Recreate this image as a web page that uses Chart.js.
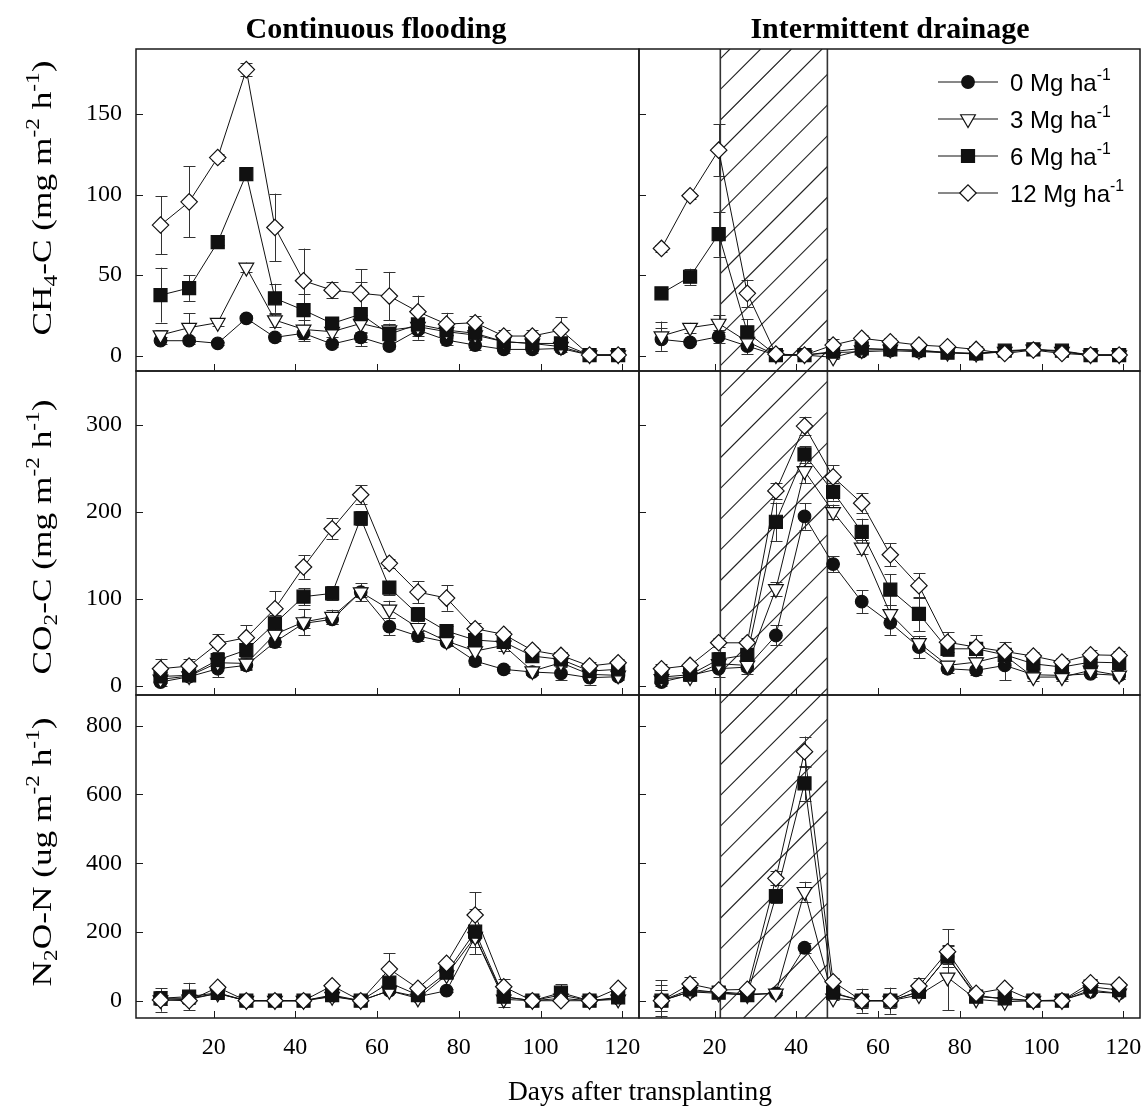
<!DOCTYPE html>
<html>
<head>
<meta charset="utf-8">
<title>CH4, CO2 and N2O fluxes</title>
<script src="https://cdn.jsdelivr.net/npm/chart.js@4.4.0/dist/chart.umd.min.js"></script>
<style>
  html, body { margin: 0; padding: 0; background: #fff; overflow: hidden; }
  #wrap { position: relative; width: 1146px; height: 1115px; overflow: hidden; }
  #wrap canvas { position: absolute; left: 0; top: 0; }
</style>
</head>
<body>
<div id="wrap">
  <canvas id="cfCh4" width="1200" height="1115"></canvas>
  <canvas id="cfCo2" width="1200" height="1115"></canvas>
  <canvas id="cfN2o" width="1200" height="1115"></canvas>
  <canvas id="idCh4" width="1200" height="1115"></canvas>
  <canvas id="idCo2" width="1200" height="1115"></canvas>
  <canvas id="idN2o" width="1200" height="1115"></canvas>
</div>
<script>
// sampling days (days after transplanting)
const days = [7, 14, 21, 28, 35, 42, 49, 56, 63, 70, 77, 84, 91, 98, 105, 112, 119];
const seriesLabels = ['0 Mg ha', '3 Mg ha', '6 Mg ha', '12 Mg ha'];
const columnTitles = ['Continuous flooding', 'Intermittent drainage'];
const xTitle = 'Days after transplanting';
const drainagePeriod = [21.4, 47.6];

// tick values
const dayTicks = [20, 40, 60, 80, 100, 120];
const ch4Ticks = [0, 50, 100, 150];
const co2Ticks = [0, 100, 200, 300];
const n2oTicks = [0, 200, 400, 600, 800];

// one row per straw rate: 0, 3, 6, 12 Mg ha-1
// continuous flooding, CH4-C
const cfCh4 = [
  [9.3, 9.3, 7.7, 23.2, 11.4, 13.9, 7.2, 11.4, 6.0, 15.9, 9.7, 6.6, 3.9, 3.9, 4.5, 0.4, 0.4],
  [12.8, 17.4, 20.5, 54.8, 22.1, 16.3, 14.9, 20.0, 15.9, 18.0, 14.9, 12.8, 8.7, 7.6, 5.6, 0.4, 0.4],
  [37.6, 42.0, 70.5, 112.7, 35.6, 28.3, 20.0, 25.8, 13.4, 19.4, 15.9, 13.9, 8.7, 7.6, 7.6, 0.4, 0.4],
  [81.1, 95.5, 123.0, 177.6, 79.6, 46.5, 40.7, 38.7, 37.0, 27.3, 19.6, 20.5, 12.2, 12.2, 15.9, 0.4, 0.4]
];
const cfCh4Err = [
  [2, 2, 1, 2, 2, 5, 2, 3, 2, 6, 3, 3, 2, 2, 2, 0, 0],
  [3, 9, 2, 3, 4, 6, 3, 5, 4, 4, 3, 3, 2, 2, 2, 0, 0],
  [17, 8, 2, 3, 9, 10, 3, 20, 6, 7, 5, 4, 3, 3, 3, 0, 0],
  [18, 22, 2, 4, 21, 20, 5, 15, 15, 10, 7, 4, 4, 4, 8, 0, 0]
];
// intermittent drainage, CH4-C
const idCh4 = [
  [10.1, 8.3, 11.8, 6.0, 0.4, 0.4, 1.9, 2.5, 3.1, 2.5, 1.9, 1.0, 2.5, 3.9, 2.5, 0.4, 0.4],
  [12.2, 17.4, 20.0, 8.7, 0.4, 0.4, -1.0, 3.5, 3.9, 3.1, 1.9, 1.4, 2.5, 3.9, 2.5, 0.4, 0.4],
  [38.7, 49.0, 75.5, 14.5, 0.4, 0.4, 2.5, 4.6, 3.9, 3.5, 1.9, 1.4, 3.1, 3.9, 3.1, 0.4, 0.4],
  [66.6, 99.3, 127.6, 38.7, 1.0, 0.4, 6.6, 10.8, 8.7, 6.6, 5.6, 3.9, 1.4, 3.5, 1.4, 0.4, 0.4]
];
const idCh4Err = [
  [7, 1, 4, 5, 0, 0, 1, 1, 1, 1, 1, 1, 1, 1, 1, 0, 0],
  [9, 3, 5, 2, 0, 0, 1, 1, 1, 1, 1, 1, 1, 1, 1, 0, 0],
  [2, 5, 14, 8, 0, 0, 1, 1, 1, 1, 1, 1, 1, 1, 1, 0, 0],
  [2, 2, 16, 8.5, 1, 0, 4, 2, 2, 1, 1, 1, 1, 1, 1, 0, 0]
];
// continuous flooding, CO2-C
const cfCo2 = [
  [4.6, 10.7, 19.9, 23.8, 50.6, 72.0, 76.6, 108.0, 68.2, 57.5, 50.6, 28.7, 19.2, 16.1, 14.6, 9.6, 10.7],
  [7.7, 11.5, 26.8, 26.0, 59.4, 73.6, 79.7, 108.0, 88.1, 67.0, 51.7, 40.2, 46.7, 17.2, 26.8, 13.4, 12.3],
  [11.0, 12.3, 29.9, 41.4, 72.0, 102.7, 106.5, 192.7, 113.0, 82.4, 63.2, 52.9, 50.6, 34.5, 30.6, 17.2, 19.2],
  [19.9, 23.0, 49.0, 55.6, 88.9, 136.8, 180.8, 219.9, 141.0, 108.0, 101.1, 65.9, 59.4, 41.0, 35.2, 23.0, 26.8]
];
const cfCo2Err = [
  [4, 3, 10, 5, 6, 5, 5, 6, 10, 6, 5, 5, 4, 3, 8, 8, 4],
  [4, 4, 6, 6, 8, 15, 8, 10, 10, 6, 5, 8, 6, 4, 5, 4, 4],
  [5, 5, 8, 8, 10, 10, 8, 8, 8, 8, 6, 5, 5, 4, 4, 4, 4],
  [11.5, 7.7, 10.3, 14, 20, 13.4, 12, 11, 5, 12.6, 14.6, 6, 4, 4, 3, 5, 4]
];
// intermittent drainage, CO2-C
const idCo2 = [
  [4.6, 12.2, 19.9, 21.8, 58.1, 194.9, 140.2, 97.0, 72.6, 44.7, 19.9, 18.0, 23.7, 13.0, 12.2, 14.1, 12.2],
  [8.4, 10.3, 25.6, 23.7, 111.6, 247.2, 200.2, 159.3, 82.9, 49.7, 23.7, 27.5, 35.2, 10.3, 10.3, 18.0, 12.2],
  [10.3, 13.0, 30.6, 35.9, 188.8, 266.3, 223.2, 177.3, 110.8, 82.9, 42.8, 42.8, 35.9, 25.6, 21.8, 27.5, 26.7],
  [19.9, 23.7, 49.7, 49.7, 224.3, 298.8, 240.4, 210.2, 150.9, 115.4, 50.4, 44.7, 39.7, 34.4, 27.5, 35.9, 35.2]
];
const idCo2Err = [
  [4.6, 4, 9.5, 8, 11.5, 15, 9, 13, 13.8, 12.6, 5, 5, 17, 4, 4, 4, 4],
  [4, 4, 6, 6, 7.6, 14, 8.4, 8, 10, 8, 5, 6, 6, 4, 4, 4, 4],
  [5, 5, 8, 8, 22, 9.6, 10, 15, 18, 20, 8, 6, 5, 5, 4, 4, 4],
  [5, 4, 5, 6, 9, 10.7, 13.4, 11.5, 13.4, 14.5, 11.5, 13.4, 11, 5, 5, 5, 5]
];
// continuous flooding, N2O-N
const cfN2o = [
  [7, 7, 21, 0, 0, 0, 13.6, 0, 29.1, 11.6, 29.1, 186, 11.6, 0, 16.5, 0, 6.8],
  [2, 4, 21.3, 0, 0, 0, 11.6, 0, 29.1, 6.8, 74.7, 186.2, 3.9, 0, 6.8, 0, 3.9],
  [7, 12, 23, 0, 0, 0, 16.5, 0, 52.4, 16.5, 81.5, 200.7, 11.6, 0, 23.3, 0, 9.7],
  [2, 0, 38.8, 0, 0, 0, 43.6, 0, 92, 35.9, 108.6, 249.2, 40.7, 0, 0, 0, 35.9]
];
const cfN2oErr = [
  [10, 5, 5, 2, 3, 2, 5, 2, 8, 5, 5, 30, 8, 3, 5, 3, 5],
  [15, 15, 5, 2, 3, 2, 5, 2, 8, 5, 10, 30, 22, 15, 5, 3, 5],
  [20, 40, 10, 2, 3, 2, 8, 2, 10, 8, 10, 65, 8, 5, 24, 3, 5],
  [34, 10, 5, 2, 3, 2, 5, 2, 46, 5, 5, 66, 22, 5, 5, 10, 5]
];
// intermittent drainage, N2O-N
const idN2o = [
  [0, 26, 26, 19.4, 21.3, 154, 21.3, 0, 0, 26, 128, 16.5, 3.9, 0, 2, 26, 21.3],
  [0, 26, 21.3, 16.5, 21.3, 317, 6.8, 0, 0, 16.5, 67.9, 4, -3, 0, 0, 31, 21.3],
  [0, 33, 23.3, 16.5, 304.6, 632.4, 23.3, 0, 0, 26.2, 128, 11.6, 6.8, 0, 0, 40.7, 31],
  [0, 48.5, 31, 33, 356, 724.5, 55.3, 0, 0, 42.7, 142.6, 21.3, 35.9, 0, 0, 52.4, 45.6]
];
const idN2oErr = [
  [30, 10, 5, 5, 5, 15, 5, 10, 10, 5, 20, 5, 5, 3, 3, 5, 5],
  [45, 10, 5, 5, 5, 29, 5, 10, 10, 8, 95, 5, 5, 3, 3, 8, 5],
  [30, 15, 5, 5, 20, 50, 8, 20, 20, 8, 30, 8, 5, 3, 3, 8, 8],
  [60, 21, 5, 8, 20, 44, 10, 35, 38, 22, 65, 8, 5, 3, 3, 10, 8]
];

// y axis titles, [text, 'sub' | 'sup']
const yTitles = [
  [['CH'], ['4', 'sub'], ['-C (mg m'], ['-2', 'sup'], [' h'], ['-1', 'sup'], [')']],
  [['CO'], ['2', 'sub'], ['-C (mg m'], ['-2', 'sup'], [' h'], ['-1', 'sup'], [')']],
  [['N'], ['2', 'sub'], ['O-N (ug m'], ['-2', 'sup'], [' h'], ['-1', 'sup'], [')']]
];

// page layout
const CANVAS_W = 1200, CANVAS_H = 1115;
const Y_AXIS_W = 136, X_AXIS_H = 97;
const COLS = [
  { left: 136, right: 639, xMin: 1, xMax: 124.1 },
  { left: 639, right: 1140, xMin: 1.5, xMax: 124.1 }
];
const ROWS = [
  { top: 49, bottom: 371, yMin: -9.5, yMax: 190.4, ticks: ch4Ticks, titleY: 198 },
  { top: 371, bottom: 695, yMin: -10.3, yMax: 362.1, ticks: co2Ticks, titleY: 537 },
  { top: 695, bottom: 1018, yMin: -50.3, yMax: 889.3, ticks: n2oTicks, titleY: 852 }
];

const SERIF = "'Liberation Serif', 'Times New Roman', serif";
const SANS = "'Liberation Sans', Arial, sans-serif";

// marker styles per straw rate
const markers = [
  { style: 'circle', r: 6.3, fill: '#111', rot: 0 },
  { style: 'triangle', r: 8.5, fill: '#fff', rot: 180 },
  { style: 'rect', r: 9.2, fill: '#111', rot: 0 },
  { style: 'rectRot', r: 8.2, fill: '#fff', rot: 0 }
];

Chart.defaults.font.family = SERIF;
Chart.defaults.font.size = 24;
Chart.defaults.color = '#000';

// text with sub/superscripts, y = baseline
function drawRich(ctx, parts, x, y, size, family, align) {
  const pieces = parts.map(([t, k]) => {
    const s = k ? size * 0.66 : size;
    ctx.font = s + 'px ' + family;
    return { t, k, s, w: ctx.measureText(t).width };
  });
  const total = pieces.reduce((sum, p) => sum + p.w, 0);
  let cx = align === 'center' ? x - total / 2 : x;
  ctx.textAlign = 'left';
  ctx.textBaseline = 'alphabetic';
  pieces.forEach(p => {
    ctx.font = p.s + 'px ' + family;
    const dy = p.k === 'sub' ? size * 0.22 : p.k === 'sup' ? -size * 0.42 : 0;
    ctx.fillText(p.t, cx, y + dy);
    cx += p.w;
  });
}

const decor = {
  id: 'decor',
  beforeDatasetsDraw(chart, args, o) {
    const ctx = chart.ctx, xs = chart.scales.x, ys = chart.scales.y, a = chart.chartArea;
    // drainage period: hatched band
    if (o.hatch) {
      const x1 = xs.getPixelForValue(drainagePeriod[0]);
      const x2 = xs.getPixelForValue(drainagePeriod[1]);
      ctx.save();
      ctx.beginPath();
      ctx.rect(x1, a.top, x2 - x1, a.bottom - a.top);
      ctx.clip();
      ctx.strokeStyle = '#222';
      ctx.lineWidth = 1.1;
      ctx.beginPath();
      const step = 30.7, phase = 779;
      const c0 = phase + Math.floor((x1 + a.top - phase) / step) * step;
      for (let c = c0; c <= x2 + a.bottom + step; c += step) {
        ctx.moveTo(c - a.bottom, a.bottom);
        ctx.lineTo(c - a.top, a.top);
      }
      ctx.stroke();
      ctx.restore();
      ctx.save();
      ctx.strokeStyle = '#333';
      ctx.lineWidth = 1.6;
      ctx.beginPath();
      ctx.moveTo(x1, a.top); ctx.lineTo(x1, a.bottom);
      ctx.moveTo(x2, a.top); ctx.lineTo(x2, a.bottom);
      ctx.stroke();
      ctx.restore();
    }
    // error bars (behind the markers)
    ctx.save();
    ctx.strokeStyle = '#333';
    ctx.lineWidth = 1;
    chart.data.datasets.forEach(ds => {
      ds.data.forEach((pt, j) => {
        const e = ds.errorBars[j];
        if (!e) return;
        const px = Math.round(xs.getPixelForValue(pt.x)) + 0.5;
        let yt = ys.getPixelForValue(pt.y + e), yb = ys.getPixelForValue(pt.y - e);
        const capT = yt > a.top, capB = yb < a.bottom;
        yt = Math.max(yt, a.top); yb = Math.min(yb, a.bottom);
        ctx.beginPath();
        ctx.moveTo(px, yt); ctx.lineTo(px, yb);
        if (capT) { ctx.moveTo(px - 6, Math.round(yt) + 0.5); ctx.lineTo(px + 6, Math.round(yt) + 0.5); }
        if (capB) { ctx.moveTo(px - 6, Math.round(yb) + 0.5); ctx.lineTo(px + 6, Math.round(yb) + 0.5); }
        ctx.stroke();
      });
    });
    ctx.restore();
  },
  afterDraw(chart, args, o) {
    const ctx = chart.ctx, xs = chart.scales.x, ys = chart.scales.y, a = chart.chartArea;
    ctx.save();
    // frame
    ctx.strokeStyle = '#1a1a1a';
    ctx.lineWidth = 1.5;
    ctx.strokeRect(a.left, a.top, a.right - a.left, a.bottom - a.top);
    // inward tick marks
    ctx.lineWidth = 1;
    ctx.beginPath();
    ys.ticks.forEach(t => {
      const p = Math.round(ys.getPixelForValue(t.value)) + 0.5;
      ctx.moveTo(a.left, p); ctx.lineTo(a.left + 7, p);
    });
    xs.ticks.forEach(t => {
      const p = Math.round(xs.getPixelForValue(t.value)) + 0.5;
      ctx.moveTo(p, a.bottom); ctx.lineTo(p, a.bottom - 7);
    });
    ctx.stroke();
    ctx.fillStyle = '#000';
    // y axis title, stretched along its length like the original
    if (o.yTitle !== undefined && o.yTitle !== null) {
      const size = 28;
      ctx.save();
      ctx.translate(41, o.titleY);
      ctx.rotate(-Math.PI / 2);
      ctx.scale(1.26, 1);
      drawRich(ctx, yTitles[o.yTitle], 0, size * 0.35, size, SERIF, 'center');
      ctx.restore();
    }
    // column title
    if (o.colTitle !== undefined && o.colTitle !== null) {
      ctx.font = 'bold 30px ' + SERIF;
      ctx.textAlign = 'center';
      ctx.textBaseline = 'alphabetic';
      ctx.fillText(columnTitles[o.colTitle], o.colTitleX, 38);
    }
    // x axis title
    if (o.xTitle) {
      ctx.font = '27.5px ' + SERIF;
      ctx.textAlign = 'center';
      ctx.textBaseline = 'middle';
      ctx.fillText(xTitle, 640, 1093);
    }
    // legend
    if (o.legend) {
      chart.data.datasets.forEach((ds, i) => {
        const y = 82 + i * 37;
        ctx.strokeStyle = '#111';
        ctx.lineWidth = 1;
        ctx.beginPath();
        ctx.moveTo(938, y); ctx.lineTo(998, y);
        ctx.stroke();
        ctx.fillStyle = ds.pointBackgroundColor;
        ctx.lineWidth = 1.2;
        Chart.helpers.drawPoint(ctx, {
          pointStyle: ds.pointStyle, rotation: ds.pointRotation,
          radius: ds.pointRadius, borderWidth: 1.2
        }, 968, y);
        ctx.fillStyle = '#000';
        drawRich(ctx, [[ds.label], ['-1', 'sup']], 1010, y + 8.5, 24, SANS, 'left');
      });
    }
    ctx.restore();
  }
};

function makePanel(canvasId, c, r, values, errors, extra) {
  const col = COLS[c], row = ROWS[r];
  const showY = c === 0, showX = r === 2;
  const datasets = values.map((vals, i) => ({
    label: seriesLabels[i],
    data: days.map((d, j) => ({ x: d, y: vals[j] })),
    errorBars: errors[i],
    borderColor: '#111',
    borderWidth: 1,
    backgroundColor: markers[i].fill,
    pointStyle: markers[i].style,
    pointRadius: markers[i].r,
    pointRotation: markers[i].rot,
    pointBorderColor: '#111',
    pointBorderWidth: 1.2,
    pointBackgroundColor: markers[i].fill,
    tension: 0,
    clip: false,
    order: 3 - i
  }));
  return new Chart(document.getElementById(canvasId), {
    type: 'line',
    data: { datasets },
    options: {
      responsive: false,
      animation: false,
      events: [],
      layout: {
        padding: {
          left: showY ? col.left - Y_AXIS_W : col.left,
          right: CANVAS_W - col.right,
          top: row.top,
          bottom: showX ? CANVAS_H - row.bottom - X_AXIS_H : CANVAS_H - row.bottom
        }
      },
      scales: {
        x: {
          type: 'linear',
          min: col.xMin,
          max: col.xMax,
          display: showX,
          grid: { display: false, drawTicks: false },
          border: { display: false },
          ticks: { padding: 15, maxRotation: 0, font: { size: 24 } },
          afterBuildTicks: s => { s.ticks = dayTicks.map(v => ({ value: v })); },
          afterFit: s => { if (showX) s.height = X_AXIS_H; }
        },
        y: {
          type: 'linear',
          min: row.yMin,
          max: row.yMax,
          display: showY,
          grid: { display: false, drawTicks: false },
          border: { display: false },
          ticks: { padding: 14, font: { size: 24 } },
          afterBuildTicks: s => { s.ticks = row.ticks.map(v => ({ value: v })); },
          afterFit: s => { if (showY) s.width = Y_AXIS_W; }
        }
      },
      plugins: {
        legend: { display: false },
        tooltip: { enabled: false },
        decor: Object.assign({ titleY: row.titleY }, extra)
      }
    },
    plugins: [decor]
  });
}

makePanel('cfCh4', 0, 0, cfCh4, cfCh4Err, { yTitle: 0, colTitle: 0, colTitleX: 376 });
makePanel('cfCo2', 0, 1, cfCo2, cfCo2Err, { yTitle: 1 });
makePanel('cfN2o', 0, 2, cfN2o, cfN2oErr, { yTitle: 2, xTitle: true });
makePanel('idCh4', 1, 0, idCh4, idCh4Err, { hatch: true, colTitle: 1, colTitleX: 890, legend: true });
makePanel('idCo2', 1, 1, idCo2, idCo2Err, { hatch: true });
makePanel('idN2o', 1, 2, idN2o, idN2oErr, { hatch: true });
</script>
</body>
</html>
